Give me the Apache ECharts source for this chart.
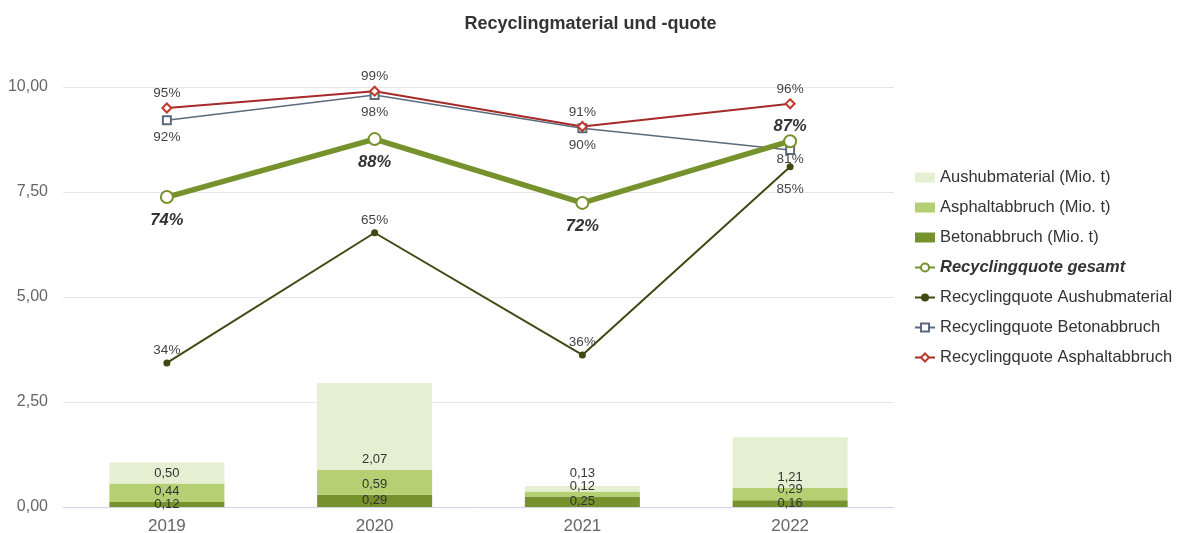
<!DOCTYPE html>
<html><head><meta charset="utf-8">
<script src="https://cdn.jsdelivr.net/npm/echarts@6/dist/echarts.min.js"></script>
<style>html,body{margin:0;padding:0;background:#fff}#c{width:1181px;height:533px}</style>
</head><body><div id="c"></div>
<script>
const years = ['2019','2020','2021','2022'];
const beton = [0.12, 0.29, 0.25, 0.16];
const asphalt = [0.44, 0.59, 0.12, 0.29];
const aushub = [0.50, 2.07, 0.13, 1.21];
const quoteGesamt = [73.8, 87.6, 72.4, 87.1];
const quoteAushub = [34.3, 65.3, 36.2, 81];
const quoteBeton = [92.1, 98.1, 90.2, 85];
const quoteAsphalt = [95, 99, 90.6, 96];
const yTicks = [0, 2.5, 5, 7.5, 10];

const gesamtLabelPos = ['bottom','bottom','bottom','top'];
const gesamtLabelOffset = [0, 0, 0, 9];
const aushubBarLabelOffset = [0, 0, -8, 0];
const aushubQuoteLabelOffset = [0, 0, 0, 5];
const betonQuoteLabelOffset = [0, 0, 0, 22];

const fmt2 = v => v.toFixed(2).replace('.', ',');
const pct = p => Math.round(p.value) + '%';

const chart = echarts.init(document.getElementById('c'));
const barLabel = {show:true, color:'#333', fontSize:13, fontFamily:'Liberation Sans, Arial', formatter:p=>fmt2(p.value)};
chart.setOption({
  animation:false,
  textStyle:{fontFamily:'Liberation Sans, Arial'},
  title:{text:'Recyclingmaterial und -quote', left:'center', top:10, textStyle:{fontSize:18, fontWeight:'bold', color:'#333', fontFamily:'Liberation Sans, Arial'}},
  grid:{left:63, right:287, top:87, bottom:26, containLabel:false, outerBoundsMode:'none'},
  legend:{orient:'vertical', left:909, top:164, itemGap:13, itemWidth:20, itemHeight:10,
    textStyle:{fontSize:16.5, color:'#333'},
    data:[
      {name:'Aushubmaterial (Mio. t)', icon:'rect'},
      {name:'Asphaltabbruch (Mio. t)', icon:'rect'},
      {name:'Betonabbruch (Mio. t)', icon:'rect'},
      {name:'Recyclingquote gesamt', textStyle:{fontWeight:'bold', fontStyle:'italic'}},
      {name:'Recyclingquote Aushubmaterial'},
      {name:'Recyclingquote Betonabbruch'},
      {name:'Recyclingquote Asphaltabbruch'}
    ]},
  xAxis:{type:'category', data:years, axisTick:{show:false},
    axisLine:{lineStyle:{color:'#ccd6eb'}},
    axisLabel:{fontSize:17, color:'#666', margin:11}},
  yAxis:[
    {type:'value', min:yTicks[0], max:yTicks[yTicks.length-1], interval:2.5,
      axisLabel:{fontSize:16, color:'#666', formatter:fmt2, margin:15},
      splitLine:{lineStyle:{color:'#e6e6e6'}}, axisLine:{show:false}, axisTick:{show:false}},
    {type:'value', min:0, max:100, show:false, splitLine:{show:false}}
  ],
  series:[
    {name:'Betonabbruch (Mio. t)', type:'bar', stack:'m', barWidth:115, data:beton,
      itemStyle:{color:'#76922d'}, label:Object.assign({position:'inside'}, barLabel)},
    {name:'Asphaltabbruch (Mio. t)', type:'bar', stack:'m', data:asphalt,
      itemStyle:{color:'#b5d072'}, label:Object.assign({position:'insideBottom', distance:4}, barLabel)},
    {name:'Aushubmaterial (Mio. t)', type:'bar', stack:'m',
      data:aushub.map((v,i)=>({value:v, label:{offset:[0, aushubBarLabelOffset[i]]}})),
      itemStyle:{color:'#e5efd2'}, label:Object.assign({position:'insideBottom', distance:4}, barLabel)},
    {name:'Recyclingquote gesamt', type:'line', yAxisIndex:1, z:5,
      data:quoteGesamt.map((v,i)=>({value:v, label:{position:gesamtLabelPos[i], offset:[0, gesamtLabelOffset[i]]}})),
      lineStyle:{color:'#76922d', width:5.5}, itemStyle:{color:'#76922d', borderWidth:2},
      symbol:'emptyCircle', symbolSize:12,
      label:{show:true, formatter:pct, fontSize:16.5, fontWeight:'bold', fontStyle:'italic', color:'#333', distance:8}},
    {name:'Recyclingquote Aushubmaterial', type:'line', yAxisIndex:1, z:4,
      data:quoteAushub.map((v,i)=>({value:v, label:{offset:[0, aushubQuoteLabelOffset[i]]}})),
      lineStyle:{color:'#3d4a12', width:2}, itemStyle:{color:'#3d4a12'},
      symbol:'circle', symbolSize:7,
      label:{show:true, position:'top', formatter:pct, fontSize:13.5, color:'#444', distance:2}},
    {name:'Recyclingquote Betonabbruch', type:'line', yAxisIndex:1, z:3,
      data:quoteBeton.map((v,i)=>({value:v, label:{offset:[0, betonQuoteLabelOffset[i]]}})),
      lineStyle:{color:'#5b6b7c', width:1.5}, itemStyle:{color:'#5b6b7c', borderWidth:1.2},
      symbol:'emptyRect', symbolSize:8,
      label:{show:true, position:'bottom', formatter:pct, fontSize:13.5, color:'#444', distance:5}},
    {name:'Recyclingquote Asphaltabbruch', type:'line', yAxisIndex:1, z:3, data:quoteAsphalt,
      lineStyle:{color:'#a52a2a', width:2}, itemStyle:{color:'#c0392b', borderWidth:1},
      symbol:'emptyDiamond', symbolSize:9,
      label:{show:true, position:'top', formatter:pct, fontSize:13.5, color:'#444', distance:2}}
  ]
});
</script>
</body></html>
